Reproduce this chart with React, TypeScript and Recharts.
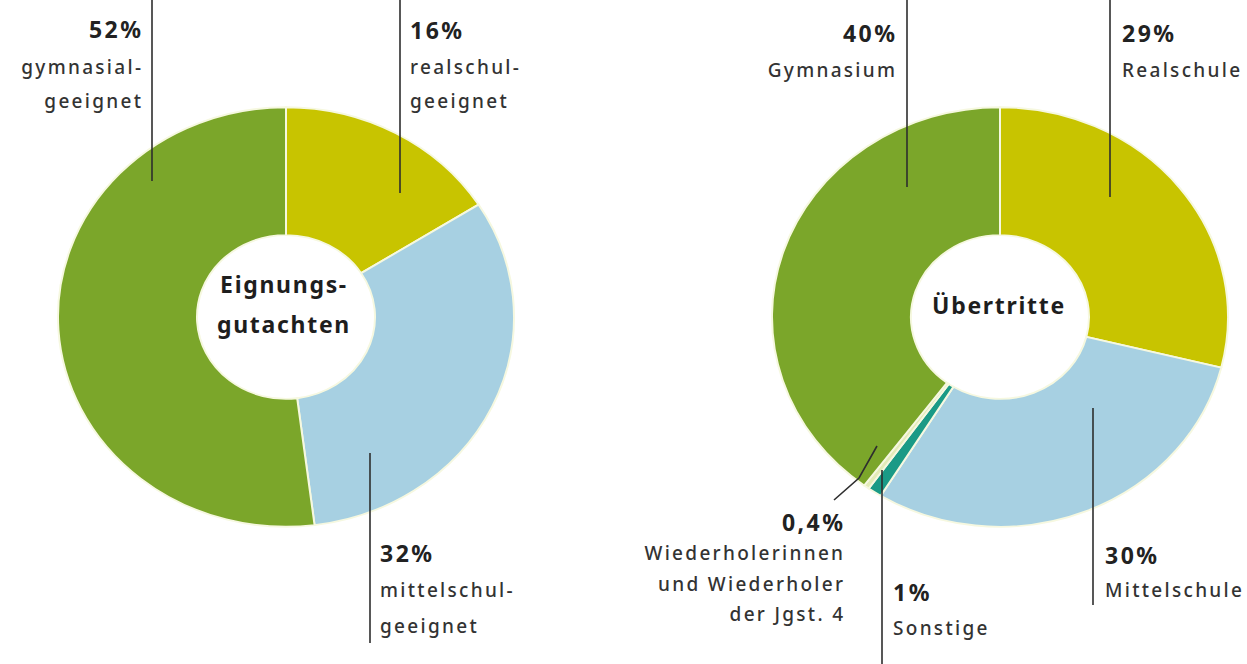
import React from "react";
import { PieChart, Pie, Cell } from "recharts";

// Eignungsgutachten (clockwise from 12 o'clock)
const gutachtenNames = ["realschulgeeignet", "mittelschulgeeignet", "gymnasialgeeignet"];
const gutachtenValues = [16, 32, 52];
const gutachtenColors = ["#c8c400", "#a7d0e2", "#7ba62a"];

// Übertritte (clockwise from 12 o'clock)
const uebertrittNames = ["Realschule", "Mittelschule", "Sonstige", "Wiederholer", "Gymnasium"];
const uebertrittValues = [29, 30, 1, 0.4, 40];
const uebertrittColors = ["#c8c400", "#a7d0e2", "#1a9a86", "#e3ebb8", "#7ba62a"];

const gutachtenData = gutachtenNames.map((name, i) => ({ name, value: gutachtenValues[i] }));
const uebertrittData = uebertrittNames.map((name, i) => ({ name, value: uebertrittValues[i] }));

const W = 1247;
const H = 664;
const SIZE = 470;
const OUTER = 228;
const INNER = 89;
const SQUASH = 0.92;

const textColor = "#333";
const font = "'Noto Sans', 'Open Sans', sans-serif";

type Line = { text: string; y: number; bold?: boolean };
type Callout = { x: number; align: "left" | "right"; lines: Line[] };

// annotation layout
const callouts: Callout[] = [
  { x: 141, align: "right", lines: [{ text: "52%", y: 29, bold: true }, { text: "gymnasial-", y: 67 }, { text: "geeignet", y: 101 }] },
  { x: 410, align: "left", lines: [{ text: "16%", y: 30, bold: true }, { text: "realschul-", y: 67 }, { text: "geeignet", y: 101 }] },
  { x: 380, align: "left", lines: [{ text: "32%", y: 553, bold: true }, { text: "mittelschul-", y: 590 }, { text: "geeignet", y: 626 }] },
  { x: 895, align: "right", lines: [{ text: "40%", y: 33, bold: true }, { text: "Gymnasium", y: 70 }] },
  { x: 1122, align: "left", lines: [{ text: "29%", y: 33, bold: true }, { text: "Realschule", y: 70 }] },
  { x: 1105, align: "left", lines: [{ text: "30%", y: 555, bold: true }, { text: "Mittelschule", y: 590 }] },
  { x: 893, align: "left", lines: [{ text: "1%", y: 592, bold: true }, { text: "Sonstige", y: 628 }] },
  {
    x: 843,
    align: "right",
    lines: [
      { text: "0,4%", y: 522, bold: true },
      { text: "Wiederholerinnen", y: 553 },
      { text: "und Wiederholer", y: 584 },
      { text: "der Jgst. 4", y: 614 },
    ],
  },
];

const leaders = [
  "M152 0 V181",
  "M400 0 V193",
  "M370 453 V643",
  "M907 0 V187",
  "M1110 0 V197",
  "M1093 408 V605",
  "M882 470 V664",
  "M877 446 L859 478 L834 500",
];

const Donut = ({ cx, cy, data, colors }: { cx: number; cy: number; data: { name: string; value: number }[]; colors: string[] }) => (
  <div
    style={{
      position: "absolute",
      left: cx - SIZE / 2,
      top: cy - SIZE / 2,
      width: SIZE,
      height: SIZE,
      transform: `scaleY(${SQUASH})`,
      transformOrigin: "50% 50%",
    }}
  >
    <PieChart width={SIZE} height={SIZE} margin={{ top: 0, right: 0, bottom: 0, left: 0 }}>
      <Pie
        data={data}
        dataKey="value"
        nameKey="name"
        cx="50%"
        cy="50%"
        startAngle={90}
        endAngle={-270}
        innerRadius={INNER}
        outerRadius={OUTER}
        stroke="#f6f8e0"
        strokeWidth={2}
        isAnimationActive={false}
      >
        {data.map((d, i) => (
          <Cell key={d.name} fill={colors[i]} />
        ))}
      </Pie>
    </PieChart>
  </div>
);

const App: React.FC = () => {
  return (
    <div style={{ position: "absolute", left: 0, top: 0, width: W, height: H, background: "#fff", fontFamily: font, overflow: "hidden" }}>
      <Donut cx={286} cy={317} data={gutachtenData} colors={gutachtenColors} />
      <Donut cx={1000} cy={317} data={uebertrittData} colors={uebertrittColors} />

      <svg width={W} height={H} style={{ position: "absolute", left: 0, top: 0, pointerEvents: "none" }}>
        {leaders.map((d) => (
          <path key={d} d={d} fill="none" stroke="#2e2e2e" strokeWidth={1.6} />
        ))}
      </svg>

      {/* centre titles */}
      <div style={{ position: "absolute", left: 184, width: 200, top: 264, textAlign: "center", fontWeight: 700, fontSize: 23, lineHeight: "40px", color: "#1e1e1e", letterSpacing: 1.7 }}>
        Eignungs-
        <br />
        gutachten
      </div>
      <div style={{ position: "absolute", left: 899, width: 200, top: 287, textAlign: "center", fontWeight: 700, fontSize: 23, lineHeight: "36px", color: "#1e1e1e", letterSpacing: 1.7 }}>
        Übertritte
      </div>

      {callouts.map((c, ci) =>
        c.lines.map((l, li) => {
          const ls = l.bold ? 2.5 : 2.3;
          return (
            <div
              key={`${ci}-${li}`}
              style={{
                position: "absolute",
                top: l.y - 16,
                height: 32,
                lineHeight: "32px",
                whiteSpace: "nowrap",
                fontSize: l.bold ? 23 : 19,
                fontWeight: l.bold ? 700 : 500,
                letterSpacing: ls,
                color: l.bold ? "#222" : textColor,
                ...(c.align === "left" ? { left: c.x } : { right: W - c.x - ls }),
              }}
            >
              {l.text}
            </div>
          );
        })
      )}
    </div>
  );
};

export default App;
